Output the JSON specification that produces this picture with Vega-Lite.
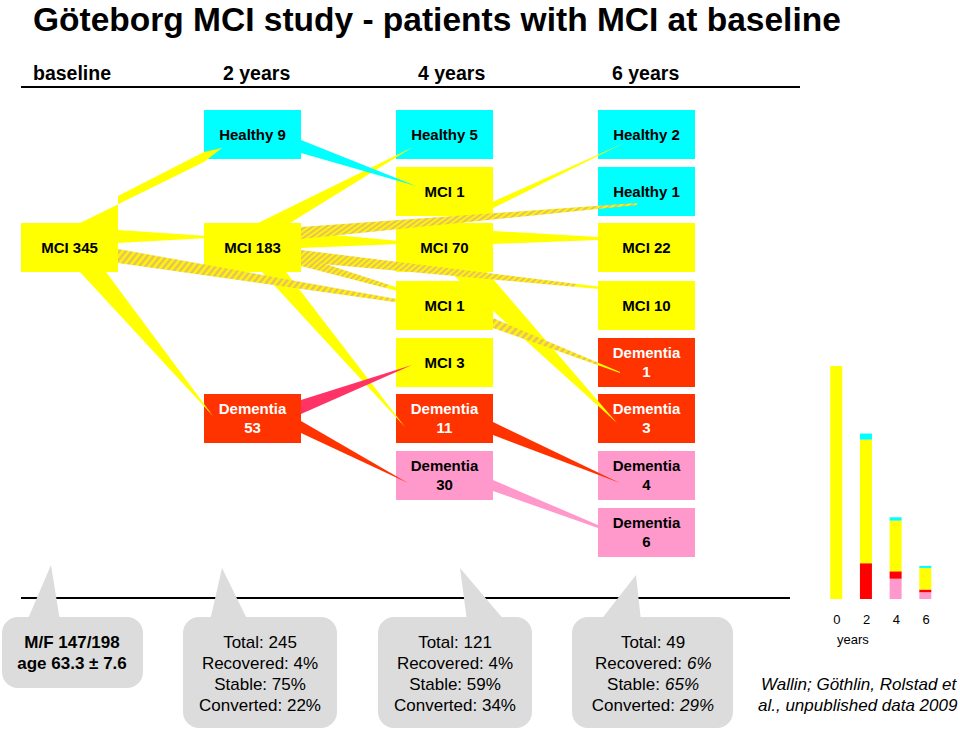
{
"$schema":"https://vega.github.io/schema/vega-lite/v6.json",
"width":960,"height":730,
"autosize":{"type":"fit","contains":"padding"},
"padding":0,
"background":"white",
"config":{"view":{"stroke":null},"font":"Liberation Sans"},
"datasets":{
"boxes":[
{"t":"MCI 345","k":"mci","x":21,"x2":118,"y":223,"y2":272},
{"t":"Healthy 9","k":"healthy","x":204,"x2":301,"y":110,"y2":159},
{"t":"MCI 183","k":"mci","x":204,"x2":301,"y":223,"y2":272},
{"t":"Dementia\n53","k":"dem","x":204,"x2":301,"y":394,"y2":443},
{"t":"Healthy 5","k":"healthy","x":396,"x2":493,"y":110,"y2":159},
{"t":"MCI 1","k":"mci","x":396,"x2":493,"y":167,"y2":216},
{"t":"MCI 70","k":"mci","x":396,"x2":493,"y":223,"y2":272},
{"t":"MCI 1","k":"mci","x":396,"x2":493,"y":281,"y2":330},
{"t":"MCI 3","k":"mci","x":396,"x2":493,"y":338,"y2":387},
{"t":"Dementia\n11","k":"dem","x":396,"x2":493,"y":394,"y2":443},
{"t":"Dementia\n30","k":"demp","x":396,"x2":493,"y":451,"y2":500},
{"t":"Healthy 2","k":"healthy","x":598,"x2":695,"y":110,"y2":159},
{"t":"Healthy 1","k":"healthy","x":598,"x2":695,"y":167,"y2":216},
{"t":"MCI 22","k":"mci","x":598,"x2":695,"y":223,"y2":272},
{"t":"MCI 10","k":"mci","x":598,"x2":695,"y":281,"y2":330},
{"t":"Dementia\n1","k":"dem","x":598,"x2":695,"y":338,"y2":387},
{"t":"Dementia\n3","k":"dem","x":598,"x2":695,"y":394,"y2":443},
{"t":"Dementia\n4","k":"demp","x":598,"x2":695,"y":451,"y2":500},
{"t":"Dementia\n6","k":"demp","x":598,"x2":695,"y":508,"y2":557}
],
"wedges":[
{"w":"W1","k":"mci","o":1,"x":80,"y":223},{"w":"W1","k":"mci","o":2,"x":204,"y":162},{"w":"W1","k":"mci","o":3,"x":222,"y":148},{"w":"W1","k":"mci","o":4,"x":204,"y":152},{"w":"W1","k":"mci","o":5,"x":118,"y":196},{"w":"W1","k":"mci","o":6,"x":118,"y":223},
{"w":"W2","k":"mci","o":1,"x":118,"y":230},{"w":"W2","k":"mci","o":2,"x":208,"y":236},{"w":"W2","k":"mci","o":3,"x":208,"y":238},{"w":"W2","k":"mci","o":4,"x":118,"y":243},
{"w":"W3","k":"mci","o":1,"x":80,"y":272},{"w":"W3","k":"mci","o":2,"x":106,"y":272},{"w":"W3","k":"mci","o":3,"x":213,"y":416},
{"w":"W4","k":"mci","o":1,"x":258,"y":223},{"w":"W4","k":"mci","o":2,"x":413,"y":147},{"w":"W4","k":"mci","o":3,"x":290,"y":223},
{"w":"W5","k":"mci","o":1,"x":301,"y":232},{"w":"W5","k":"mci","o":2,"x":400,"y":241},{"w":"W5","k":"mci","o":3,"x":400,"y":244},{"w":"W5","k":"mci","o":4,"x":301,"y":248},
{"w":"W6","k":"mci","o":1,"x":262,"y":272},{"w":"W6","k":"mci","o":2,"x":286,"y":272},{"w":"W6","k":"mci","o":3,"x":405,"y":427},
{"w":"W7","k":"healthy","o":1,"x":301,"y":140},{"w":"W7","k":"healthy","o":2,"x":416,"y":186},{"w":"W7","k":"healthy","o":3,"x":301,"y":153},
{"w":"W8","k":"revert","o":1,"x":301,"y":400},{"w":"W8","k":"revert","o":2,"x":412,"y":365},{"w":"W8","k":"revert","o":3,"x":301,"y":414},
{"w":"W9","k":"dem","o":1,"x":301,"y":421},{"w":"W9","k":"dem","o":2,"x":408,"y":483},{"w":"W9","k":"dem","o":3,"x":301,"y":433},
{"w":"W10","k":"mci","o":1,"x":455,"y":227},{"w":"W10","k":"mci","o":2,"x":470,"y":212},{"w":"W10","k":"mci","o":3,"x":624,"y":143},
{"w":"W11","k":"mci","o":1,"x":493,"y":231},{"w":"W11","k":"mci","o":2,"x":598,"y":237},{"w":"W11","k":"mci","o":3,"x":598,"y":240},{"w":"W11","k":"mci","o":4,"x":493,"y":244},
{"w":"W12","k":"mci","o":1,"x":450,"y":272},{"w":"W12","k":"mci","o":2,"x":487,"y":272},{"w":"W12","k":"mci","o":3,"x":617,"y":423},
{"w":"W13","k":"dem","o":1,"x":493,"y":422},{"w":"W13","k":"dem","o":2,"x":620,"y":483},{"w":"W13","k":"dem","o":3,"x":493,"y":435},
{"w":"W14","k":"demp","o":1,"x":493,"y":480},{"w":"W14","k":"demp","o":2,"x":598,"y":525},{"w":"W14","k":"demp","o":3,"x":598,"y":528},{"w":"W14","k":"demp","o":4,"x":493,"y":491}
],
"hatch":[
{"w":"H1","len":"long","o":1,"x":118,"y":249},{"w":"H1","len":"long","o":2,"x":430,"y":305},{"w":"H1","len":"long","o":3,"x":430,"y":307},{"w":"H1","len":"long","o":4,"x":118,"y":263},
{"w":"H2","len":"long","o":1,"x":301,"y":227},{"w":"H2","len":"long","o":2,"x":637,"y":203},{"w":"H2","len":"long","o":3,"x":637,"y":205},{"w":"H2","len":"long","o":4,"x":301,"y":239},
{"w":"H3","len":"long","o":1,"x":301,"y":250},{"w":"H3","len":"long","o":2,"x":610,"y":288},{"w":"H3","len":"long","o":3,"x":610,"y":290},{"w":"H3","len":"long","o":4,"x":301,"y":262},
{"w":"H4","len":"short","o":1,"x":301,"y":256},{"w":"H4","len":"short","o":2,"x":405,"y":290},{"w":"H4","len":"short","o":3,"x":405,"y":293},{"w":"H4","len":"short","o":4,"x":301,"y":266},
{"w":"H5","len":"short","o":1,"x":493,"y":318},{"w":"H5","len":"short","o":2,"x":620,"y":372},{"w":"H5","len":"short","o":3,"x":620,"y":373},{"w":"H5","len":"short","o":4,"x":493,"y":328}
],
"lines":[{"x":21,"x2":800,"y":87},{"x":21,"x2":790,"y":598}],
"bubbles":[{"x":2,"x2":143,"y":617,"y2":688},{"x":183,"x2":337,"y":617,"y2":728},{"x":378,"x2":532,"y":617,"y2":728},{"x":572,"x2":733,"y":617,"y2":728}],
"pointers":[
{"p":"P1","o":1,"x":51,"y":565},{"p":"P1","o":2,"x":60,"y":621},{"p":"P1","o":3,"x":27,"y":621},
{"p":"P2","o":1,"x":222,"y":568},{"p":"P2","o":2,"x":248,"y":621},{"p":"P2","o":3,"x":210,"y":621},
{"p":"P3","o":1,"x":460,"y":568},{"p":"P3","o":2,"x":505,"y":621},{"p":"P3","o":3,"x":467,"y":621},
{"p":"P4","o":1,"x":636,"y":575},{"p":"P4","o":2,"x":641,"y":621},{"p":"P4","o":3,"x":600,"y":621}
],
"texts":[
{"g":"title","t":"Göteborg MCI study - patients with MCI at baseline","x":33,"y":31},
{"g":"head","t":"baseline","x":33,"y":80},
{"g":"head","t":"2 years","x":223,"y":80},
{"g":"head","t":"4 years","x":418,"y":80},
{"g":"head","t":"6 years","x":612,"y":80},
{"g":"bubb","t":"M/F 147/198","x":72,"y":643},
{"g":"bubb","t":"age 63.3 ± 7.6","x":72,"y":664},
{"g":"bub","t":"Total: 245","x":260,"y":643},
{"g":"bub","t":"Recovered: 4%","x":260,"y":664},
{"g":"bub","t":"Stable: 75%","x":260,"y":685},
{"g":"bub","t":"Converted: 22%","x":260,"y":706},
{"g":"bub","t":"Total: 121","x":455,"y":643},
{"g":"bub","t":"Recovered: 4%","x":455,"y":664},
{"g":"bub","t":"Stable: 59%","x":455,"y":685},
{"g":"bub","t":"Converted: 34%","x":455,"y":706},
{"g":"bub","t":"Total: 49","x":653,"y":643},
{"g":"b4l","t":"Recovered:","x":682,"y":664},
{"g":"b4l","t":"Stable:","x":660,"y":685},
{"g":"b4l","t":"Converted:","x":675,"y":706},
{"g":"b4v","t":"6%","x":687,"y":664},
{"g":"b4v","t":"65%","x":665,"y":685},
{"g":"b4v","t":"29%","x":680,"y":706},
{"g":"cite","t":"Wallin; Göthlin, Rolstad et","x":761,"y":690},
{"g":"cite","t":"al., unpublished data 2009","x":758,"y":711},
{"g":"years","t":"years","x":837,"y":644}
],
"bars":[
{"year":0,"k":"mci","n":345,"o":3},
{"year":2,"k":"conv","n":53,"o":2},{"year":2,"k":"mci","n":183,"o":3},{"year":2,"k":"healthy","n":9,"o":4},
{"year":4,"k":"demp","n":30,"o":1},{"year":4,"k":"conv","n":11,"o":2},{"year":4,"k":"mci","n":75,"o":3},{"year":4,"k":"healthy","n":5,"o":4},
{"year":6,"k":"demp","n":10,"o":1},{"year":6,"k":"conv","n":4,"o":2},{"year":6,"k":"mci","n":32,"o":3},{"year":6,"k":"healthy","n":3,"o":4}
],
"yearlabels":[{"year":0,"t":"0"},{"year":2,"t":"2"},{"year":4,"t":"4"},{"year":6,"t":"6"}]
},
"resolve":{"scale":{"x":"independent","y":"independent"}},
"layer":[
{
"encoding":{
"x":{"field":"x","type":"quantitative","scale":{"domain":[0,960],"nice":false,"zero":false},"axis":null},
"y":{"field":"y","type":"quantitative","scale":{"domain":[0,730],"nice":false,"zero":false,"reverse":true},"axis":null}
},
"layer":[
{"data":{"name":"lines"},"mark":{"type":"rule","color":"#000000","strokeWidth":2},"encoding":{"x2":{"field":"x2"}}},
{"data":{"name":"boxes"},"mark":{"type":"rect"},"encoding":{"x2":{"field":"x2"},"y2":{"field":"y2"},
 "color":{"field":"k","type":"nominal","legend":null,"scale":{"domain":["healthy","mci","dem","demp","revert","conv"],"range":["#00FFFF","#FFFF00","#FF3300","#FF99CC","#FF3366","#FF0000"]}}}},
{"data":{"name":"wedges"},"mark":{"type":"line","filled":true,"interpolate":"linear-closed"},"encoding":{
 "detail":{"field":"w","type":"nominal"},"order":{"field":"o","type":"quantitative"},
 "color":{"field":"k","type":"nominal","legend":null,"scale":{"domain":["healthy","mci","dem","demp","revert","conv"],"range":["#00FFFF","#FFFF00","#FF3300","#FF99CC","#FF3366","#FF0000"]}}}},
{"data":{"name":"hatch"},"transform":[{"filter":"datum.len == 'long'"}],
 "mark":{"type":"line","filled":true,"interpolate":"linear-closed","fill":{"gradient":"linear","x1":0,"y1":0,"x2":1,"y2":0.15,"stops":[
{"offset":0,"color":"#FFFF00"},{"offset":0.01,"color":"#E5B864"},{"offset":0.02,"color":"#FFFF00"},{"offset":0.03,"color":"#E5B864"},{"offset":0.04,"color":"#FFFF00"},{"offset":0.05,"color":"#E5B864"},{"offset":0.06,"color":"#FFFF00"},{"offset":0.07,"color":"#E5B864"},{"offset":0.08,"color":"#FFFF00"},{"offset":0.09,"color":"#E5B864"},
{"offset":0.1,"color":"#FFFF00"},{"offset":0.11,"color":"#E5B864"},{"offset":0.12,"color":"#FFFF00"},{"offset":0.13,"color":"#E5B864"},{"offset":0.14,"color":"#FFFF00"},{"offset":0.15,"color":"#E5B864"},{"offset":0.16,"color":"#FFFF00"},{"offset":0.17,"color":"#E5B864"},{"offset":0.18,"color":"#FFFF00"},{"offset":0.19,"color":"#E5B864"},
{"offset":0.2,"color":"#FFFF00"},{"offset":0.21,"color":"#E5B864"},{"offset":0.22,"color":"#FFFF00"},{"offset":0.23,"color":"#E5B864"},{"offset":0.24,"color":"#FFFF00"},{"offset":0.25,"color":"#E5B864"},{"offset":0.26,"color":"#FFFF00"},{"offset":0.27,"color":"#E5B864"},{"offset":0.28,"color":"#FFFF00"},{"offset":0.29,"color":"#E5B864"},
{"offset":0.3,"color":"#FFFF00"},{"offset":0.31,"color":"#E5B864"},{"offset":0.32,"color":"#FFFF00"},{"offset":0.33,"color":"#E5B864"},{"offset":0.34,"color":"#FFFF00"},{"offset":0.35,"color":"#E5B864"},{"offset":0.36,"color":"#FFFF00"},{"offset":0.37,"color":"#E5B864"},{"offset":0.38,"color":"#FFFF00"},{"offset":0.39,"color":"#E5B864"},
{"offset":0.4,"color":"#FFFF00"},{"offset":0.41,"color":"#E5B864"},{"offset":0.42,"color":"#FFFF00"},{"offset":0.43,"color":"#E5B864"},{"offset":0.44,"color":"#FFFF00"},{"offset":0.45,"color":"#E5B864"},{"offset":0.46,"color":"#FFFF00"},{"offset":0.47,"color":"#E5B864"},{"offset":0.48,"color":"#FFFF00"},{"offset":0.49,"color":"#E5B864"},
{"offset":0.5,"color":"#FFFF00"},{"offset":0.51,"color":"#E5B864"},{"offset":0.52,"color":"#FFFF00"},{"offset":0.53,"color":"#E5B864"},{"offset":0.54,"color":"#FFFF00"},{"offset":0.55,"color":"#E5B864"},{"offset":0.56,"color":"#FFFF00"},{"offset":0.57,"color":"#E5B864"},{"offset":0.58,"color":"#FFFF00"},{"offset":0.59,"color":"#E5B864"},
{"offset":0.6,"color":"#FFFF00"},{"offset":0.61,"color":"#E5B864"},{"offset":0.62,"color":"#FFFF00"},{"offset":0.63,"color":"#E5B864"},{"offset":0.64,"color":"#FFFF00"},{"offset":0.65,"color":"#E5B864"},{"offset":0.66,"color":"#FFFF00"},{"offset":0.67,"color":"#E5B864"},{"offset":0.68,"color":"#FFFF00"},{"offset":0.69,"color":"#E5B864"},
{"offset":0.7,"color":"#FFFF00"},{"offset":0.71,"color":"#E5B864"},{"offset":0.72,"color":"#FFFF00"},{"offset":0.73,"color":"#E5B864"},{"offset":0.74,"color":"#FFFF00"},{"offset":0.75,"color":"#E5B864"},{"offset":0.76,"color":"#FFFF00"},{"offset":0.77,"color":"#E5B864"},{"offset":0.78,"color":"#FFFF00"},{"offset":0.79,"color":"#E5B864"},
{"offset":0.8,"color":"#FFFF00"},{"offset":0.81,"color":"#E5B864"},{"offset":0.82,"color":"#FFFF00"},{"offset":0.83,"color":"#E5B864"},{"offset":0.84,"color":"#FFFF00"},{"offset":0.85,"color":"#E5B864"},{"offset":0.86,"color":"#FFFF00"},{"offset":0.87,"color":"#E5B864"},{"offset":0.88,"color":"#FFFF00"},{"offset":0.89,"color":"#E5B864"},
{"offset":0.9,"color":"#FFFF00"},{"offset":0.91,"color":"#E5B864"},{"offset":0.92,"color":"#FFFF00"},{"offset":0.93,"color":"#E5B864"},{"offset":0.94,"color":"#FFFF00"},{"offset":0.95,"color":"#E5B864"},{"offset":0.96,"color":"#FFFF00"},{"offset":0.97,"color":"#E5B864"},{"offset":0.98,"color":"#FFFF00"},{"offset":0.99,"color":"#E5B864"},
{"offset":1,"color":"#FFFF00"}]}},
 "encoding":{"detail":{"field":"w","type":"nominal"},"order":{"field":"o","type":"quantitative"}}},
{"data":{"name":"hatch"},"transform":[{"filter":"datum.len == 'short'"}],
 "mark":{"type":"line","filled":true,"interpolate":"linear-closed","fill":{"gradient":"linear","x1":0,"y1":0,"x2":1,"y2":0.4,"stops":[
{"offset":0,"color":"#FFFF00"},{"offset":0.025,"color":"#E5B864"},{"offset":0.05,"color":"#FFFF00"},{"offset":0.075,"color":"#E5B864"},{"offset":0.1,"color":"#FFFF00"},{"offset":0.125,"color":"#E5B864"},{"offset":0.15,"color":"#FFFF00"},{"offset":0.175,"color":"#E5B864"},
{"offset":0.2,"color":"#FFFF00"},{"offset":0.225,"color":"#E5B864"},{"offset":0.25,"color":"#FFFF00"},{"offset":0.275,"color":"#E5B864"},{"offset":0.3,"color":"#FFFF00"},{"offset":0.325,"color":"#E5B864"},{"offset":0.35,"color":"#FFFF00"},{"offset":0.375,"color":"#E5B864"},
{"offset":0.4,"color":"#FFFF00"},{"offset":0.425,"color":"#E5B864"},{"offset":0.45,"color":"#FFFF00"},{"offset":0.475,"color":"#E5B864"},{"offset":0.5,"color":"#FFFF00"},{"offset":0.525,"color":"#E5B864"},{"offset":0.55,"color":"#FFFF00"},{"offset":0.575,"color":"#E5B864"},
{"offset":0.6,"color":"#FFFF00"},{"offset":0.625,"color":"#E5B864"},{"offset":0.65,"color":"#FFFF00"},{"offset":0.675,"color":"#E5B864"},{"offset":0.7,"color":"#FFFF00"},{"offset":0.725,"color":"#E5B864"},{"offset":0.75,"color":"#FFFF00"},{"offset":0.775,"color":"#E5B864"},
{"offset":0.8,"color":"#FFFF00"},{"offset":0.825,"color":"#E5B864"},{"offset":0.85,"color":"#FFFF00"},{"offset":0.875,"color":"#E5B864"},{"offset":0.9,"color":"#FFFF00"},{"offset":0.925,"color":"#E5B864"},{"offset":0.95,"color":"#FFFF00"},{"offset":0.975,"color":"#E5B864"},
{"offset":1,"color":"#FFFF00"}]}},
 "encoding":{"detail":{"field":"w","type":"nominal"},"order":{"field":"o","type":"quantitative"}}},
{"data":{"name":"boxes"},"transform":[{"filter":"datum.k != 'dem' && indexof(datum.t, '\\n') < 0"}],"mark":{"type":"text","font":"Liberation Sans","fontWeight":"bold","fontSize":15,"color":"#000000","align":"center","baseline":"middle","dx":48.5,"dy":24.5},"encoding":{"text":{"field":"t"}}},
{"data":{"name":"boxes"},"transform":[{"filter":"datum.k != 'dem' && indexof(datum.t, '\\n') >= 0"}],"mark":{"type":"text","font":"Liberation Sans","fontWeight":"bold","fontSize":15,"color":"#000000","align":"center","baseline":"middle","lineBreak":"\n","lineHeight":19,"dx":48.5,"dy":15},"encoding":{"text":{"field":"t"}}},
{"data":{"name":"boxes"},"transform":[{"filter":"datum.k == 'dem'"}],"mark":{"type":"text","font":"Liberation Sans","fontWeight":"bold","fontSize":15,"color":"#FFFFFF","align":"center","baseline":"middle","lineBreak":"\n","lineHeight":19,"dx":48.5,"dy":15},"encoding":{"text":{"field":"t"}}},
{"data":{"name":"bubbles"},"mark":{"type":"rect","color":"#DCDCDC","cornerRadius":16},"encoding":{"x2":{"field":"x2"},"y2":{"field":"y2"}}},
{"data":{"name":"pointers"},"mark":{"type":"line","filled":true,"color":"#DCDCDC","interpolate":"linear-closed"},"encoding":{"detail":{"field":"p","type":"nominal"},"order":{"field":"o","type":"quantitative"}}},
{"data":{"name":"texts"},"transform":[{"filter":"datum.g == 'title'"}],"mark":{"type":"text","font":"Liberation Sans","fontWeight":"bold","fontSize":33.5,"color":"#000000","align":"left","baseline":"alphabetic"},"encoding":{"text":{"field":"t"}}},
{"data":{"name":"texts"},"transform":[{"filter":"datum.g == 'head'"}],"mark":{"type":"text","font":"Liberation Sans","fontWeight":"bold","fontSize":19.5,"color":"#000000","align":"left","baseline":"alphabetic"},"encoding":{"text":{"field":"t"}}},
{"data":{"name":"texts"},"transform":[{"filter":"datum.g == 'bub'"}],"mark":{"type":"text","font":"Liberation Sans","fontSize":17,"color":"#000000","align":"center","baseline":"middle"},"encoding":{"text":{"field":"t"}}},
{"data":{"name":"texts"},"transform":[{"filter":"datum.g == 'bubb'"}],"mark":{"type":"text","font":"Liberation Sans","fontWeight":"bold","fontSize":17,"color":"#000000","align":"center","baseline":"middle"},"encoding":{"text":{"field":"t"}}},
{"data":{"name":"texts"},"transform":[{"filter":"datum.g == 'b4l'"}],"mark":{"type":"text","font":"Liberation Sans","fontSize":17,"color":"#000000","align":"right","baseline":"middle"},"encoding":{"text":{"field":"t"}}},
{"data":{"name":"texts"},"transform":[{"filter":"datum.g == 'b4v'"}],"mark":{"type":"text","font":"Liberation Sans","fontStyle":"italic","fontSize":17,"color":"#000000","align":"left","baseline":"middle"},"encoding":{"text":{"field":"t"}}},
{"data":{"name":"texts"},"transform":[{"filter":"datum.g == 'cite'"}],"mark":{"type":"text","font":"Liberation Sans","fontStyle":"italic","fontSize":17,"color":"#000000","align":"left","baseline":"alphabetic"},"encoding":{"text":{"field":"t"}}},
{"data":{"name":"texts"},"transform":[{"filter":"datum.g == 'years'"}],"mark":{"type":"text","font":"Liberation Sans","fontSize":13,"color":"#000000","align":"left","baseline":"alphabetic"},"encoding":{"text":{"field":"t"}}}
]
},
{
"layer":[
{"data":{"name":"bars"},
 "transform":[{"stack":"n","groupby":["year"],"sort":[{"field":"o","order":"ascending"}],"as":["lo","hi"]}],
 "mark":{"type":"bar","width":12},
 "encoding":{
 "x":{"field":"year","type":"quantitative","scale":{"domain":[-56,8],"nice":false,"zero":false},"axis":null},
 "y":{"field":"lo","type":"quantitative","scale":{"domain":[-194,887],"nice":false,"zero":false},"axis":null},
 "y2":{"field":"hi"},
 "color":{"field":"k","type":"nominal","legend":null,"scale":{"domain":["healthy","mci","dem","demp","revert","conv"],"range":["#00FFFF","#FFFF00","#FF3300","#FF99CC","#FF3366","#FF0000"]}}
 }},
{"data":{"name":"yearlabels"},
 "mark":{"type":"text","font":"Liberation Sans","fontSize":13,"color":"#000000","align":"center","baseline":"alphabetic","dx":0.7},
 "encoding":{
 "x":{"field":"year","type":"quantitative","scale":{"domain":[-56,8],"nice":false,"zero":false},"axis":null},
 "y":{"datum":-37,"type":"quantitative","scale":{"domain":[-194,887],"nice":false,"zero":false},"axis":null},
 "text":{"field":"t"}
 }}
]
}
]
}
